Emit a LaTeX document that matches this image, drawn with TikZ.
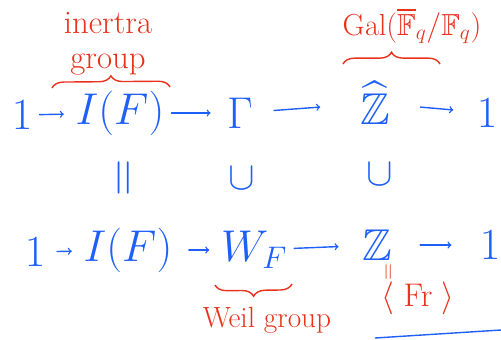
\documentclass[tikz,border=0pt]{standalone}
\usepackage{fix-cm}
\usepackage{amssymb}
\usetikzlibrary{decorations.pathreplacing}
\definecolor{inkblue}{RGB}{30,95,250}
\definecolor{inkred}{RGB}{232,50,30}
\tikzset{
  grp/.style={text=inkblue,font=\fontsize{38}{42}\selectfont,inner sep=0pt},
  rel/.style={text=inkblue,font=\fontsize{34}{36}\selectfont,inner sep=0pt},
  note/.style={text=inkred,font=\fontsize{26}{24}\selectfont,align=center,inner sep=0pt},
  map/.style={->,inkblue,line width=1.2pt,line cap=round},
  brc/.style={inkred,line width=1.2pt,decorate,decoration={brace,amplitude=10pt}}
}
\begin{document}
\begin{tikzpicture}[x=0.03cm,y=-0.03cm]
\useasboundingbox (0,0) rectangle (501,340);
% top row
\node[grp] (a1) at (22,115) {$1$};
\node[grp] (aI) at (120,113) {$I(F)$};
\node[grp] (aG) at (240,113) {$\Gamma$};
\node[grp] (aZ) at (375,103) {$\widehat{\mathbb{Z}}$};
\node[grp] (a5) at (487,113) {$1$};
% bottom row
\node[grp] (b1) at (35,252) {$1$};
\node[grp] (bI) at (128,250) {$I(F)$};
\node[grp] (bW) at (254,250) {$W_F$};
\node[grp] (bZ) at (377,245) {$\mathbb{Z}$};
\node[grp] (b5) at (490,245) {$1$};
\foreach \s/\t/\a/\b in {a1/aI/6/10,aI/aG/6/14,aG/aZ/18/34,aZ/a5/26/20,b1/bI/10/10,bI/bW/14/10,bW/bZ/6/20,bZ/b5/24/24}
{
\draw[map,shorten <=\a pt,shorten >=\b pt] (\s) -- (\t);
}
% vertical relations
\node[rel,rotate=90,font=\fontsize{44}{44}\selectfont] (eqI) at (127,178) {$=$};
\node[rel] (inG) at (242,178) {$\cup$};
\node[rel] (inZ) at (380,174) {$\cup$};
% red notes
\node[note,font=\fontsize{28}{30}\selectfont] (inert) at (108,44) {inertra\\group};
\draw[brc] (52,88) -- (170,87);
\node[note] (gal) at (412,26) {$\mathrm{Gal}(\overline{\mathbb{F}}_q/\mathbb{F}_q)$};
\draw[brc] (343,64) -- (440,64);
\draw[brc] (292,284) -- (215,285);
\node[note,font=\fontsize{25}{25}\selectfont] (weil) at (267,320) {Weil group};
\node[note,rotate=90,font=\fontsize{20}{20}\selectfont] (eqF) at (390,272) {$=$};
\node[note,font=\fontsize{28}{28}\selectfont] (frob) at (418,298) {$\langle\;\mathrm{Fr}\;\rangle$};
% stray stroke
\coordinate (s1) at (375,338);
\coordinate (s2) at (501,330);
\draw[inkblue,line width=1.2pt] (s1) -- (s2);
\end{tikzpicture}
\end{document}
